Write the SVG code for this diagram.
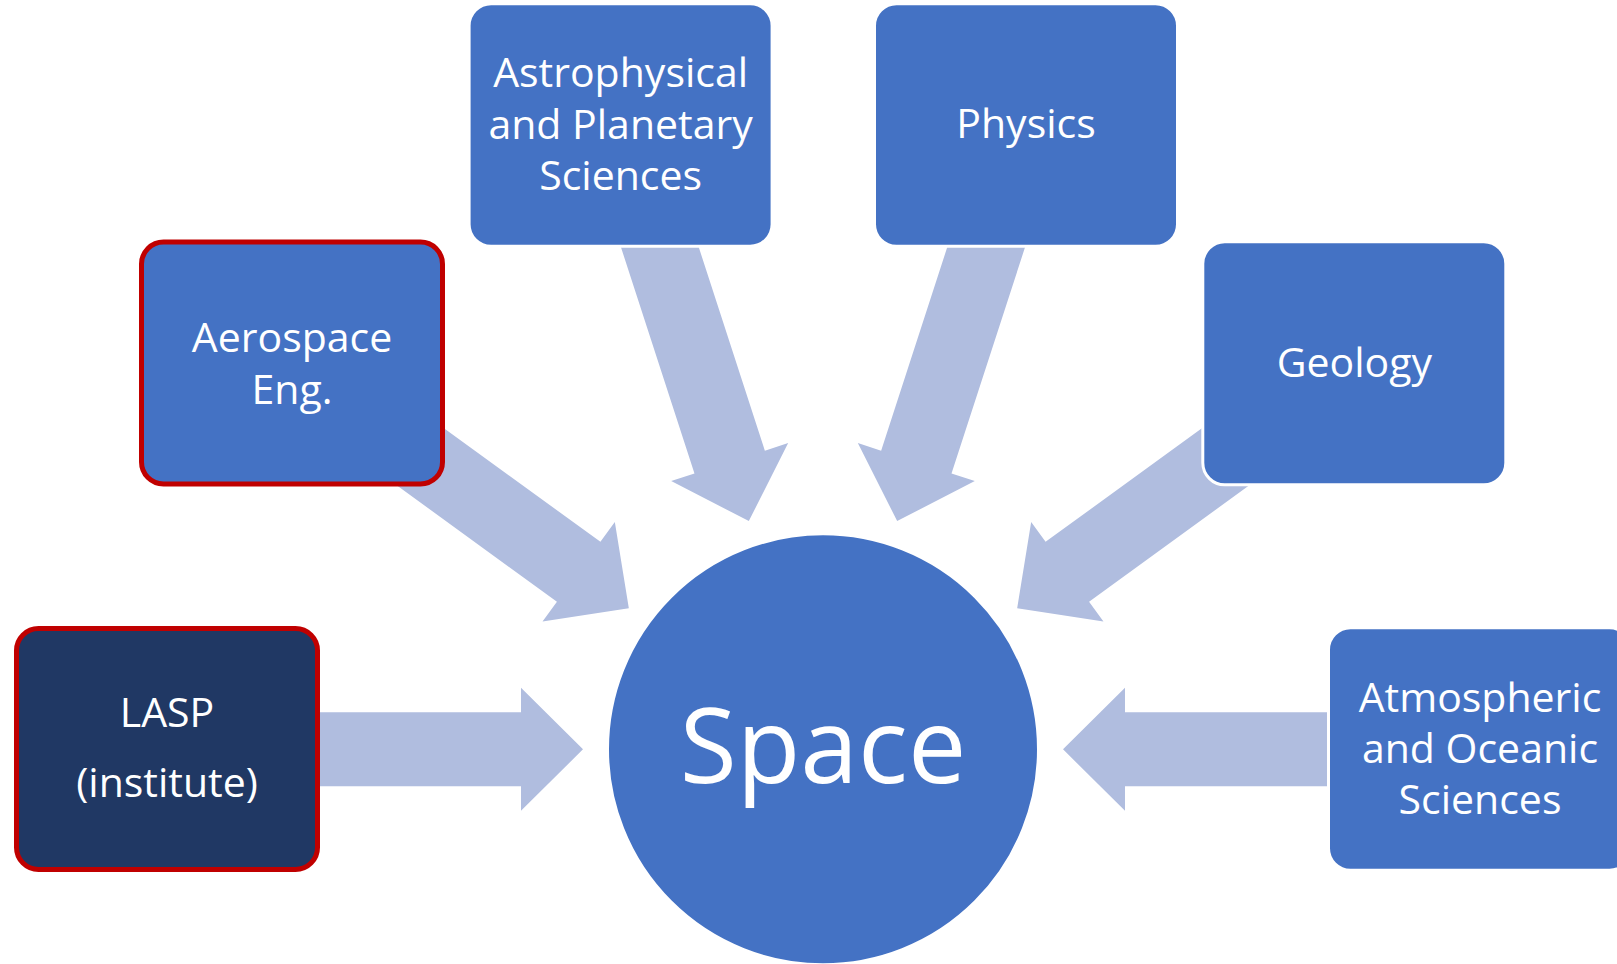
<svg xmlns="http://www.w3.org/2000/svg" width="1617" height="964" viewBox="0 0 1617 964">
  <style>
    .box { fill: #4472C4; stroke: #FFFFFF; stroke-width: 3; }
    .hl { stroke: #C00000; stroke-width: 5; }
    .dark { fill: #203864; }
    .arrow { fill: #B0BDDF; }
    .lbl { font-family: "Open Sans", "Noto Sans", "Liberation Sans", sans-serif; font-size: 41px; fill: #FFFFFF; text-anchor: middle; }
    .big { font-size: 104px; }
  </style>
  <defs>
    <path id="arr" d="M -600,-37 L -302,-37 L -302,-61.5 L -240,0 L -302,61.5 L -302,37 L -600,37 Z"/>
  </defs>
  <rect x="0" y="0" width="1617" height="964" fill="#FFFFFF"/>
  <g id="connectors">
    <use href="#arr" class="arrow" transform="translate(823 749.3) rotate(0)"/>
    <use href="#arr" class="arrow" transform="translate(823 749.3) rotate(36)"/>
    <use href="#arr" class="arrow" transform="translate(823 749.3) rotate(72)"/>
    <use href="#arr" class="arrow" transform="translate(823 749.3) rotate(108)"/>
    <use href="#arr" class="arrow" transform="translate(823 749.3) rotate(144)"/>
    <use href="#arr" class="arrow" transform="translate(823 749.3) rotate(180)"/>
  </g>
  <g id="node-space">
    <circle cx="823" cy="749.3" r="215" fill="#4472C4" stroke="#FFFFFF" stroke-width="2"/>
    <text class="lbl big" x="823" y="782.7">Space</text>
  </g>
  <g id="node-lasp">
    <rect class="box hl dark" x="16.5" y="628.5" width="301" height="241" rx="22"/>
    <text class="lbl" x="167" y="727">LASP</text>
    <text class="lbl" x="167" y="797">(institute)</text>
  </g>
  <g id="node-aerospace">
    <rect class="box hl" x="141.5" y="242" width="301" height="242" rx="22"/>
    <text class="lbl" x="292" y="351.7">Aerospace</text>
    <text class="lbl" x="292" y="404">Eng.</text>
  </g>
  <g id="node-astro">
    <rect class="box" x="469.1" y="3.7" width="303" height="242.6" rx="22"/>
    <text class="lbl" x="620.6" y="86.5">Astrophysical</text>
    <text class="lbl" x="620.6" y="138.5">and Planetary</text>
    <text class="lbl" x="620.6" y="189.5">Sciences</text>
  </g>
  <g id="node-physics">
    <rect class="box" x="874.5" y="3.7" width="303" height="242.6" rx="22"/>
    <text class="lbl" x="1026" y="138">Physics</text>
  </g>
  <g id="node-geology">
    <rect class="box" x="1202.8" y="241.8" width="303" height="243" rx="22"/>
    <text class="lbl" x="1354.3" y="376.7">Geology</text>
  </g>
  <g id="node-atmo">
    <rect class="box" x="1328.5" y="627.8" width="303" height="242.4" rx="22"/>
    <text class="lbl" x="1480" y="711.5">Atmospheric</text>
    <text class="lbl" x="1480" y="762.5">and Oceanic</text>
    <text class="lbl" x="1480" y="813.5">Sciences</text>
  </g>
</svg>
